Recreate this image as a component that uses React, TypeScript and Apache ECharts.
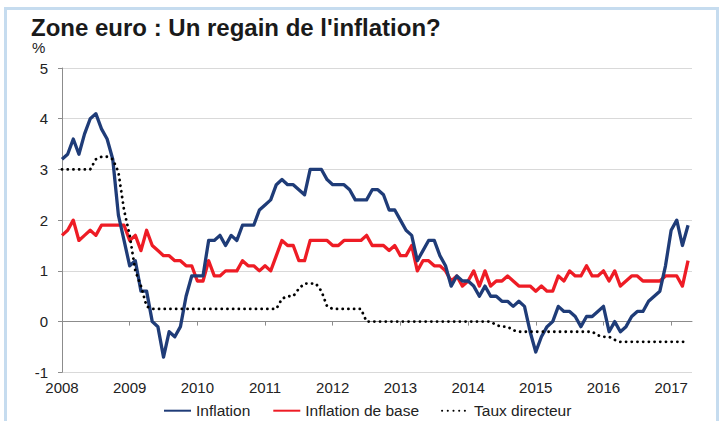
import React, { useEffect, useRef } from 'react';
import * as echarts from 'echarts';

const yearLabels = ['2008', '2009', '2010', '2011', '2012', '2013', '2014', '2015', '2016', '2017'];
const seriesNames = ['Inflation', 'Inflation de base', 'Taux directeur'];

// Monthly values, Jan 2008 - Apr 2017
const inflation = [
  3.2, 3.3, 3.6, 3.3, 3.7, 4.0, 4.1, 3.8, 3.6, 3.2, 2.1, 1.6,
  1.1, 1.2, 0.6, 0.6, 0.0, -0.1, -0.7, -0.2, -0.3, -0.1, 0.5, 0.9,
  0.9, 0.9, 1.6, 1.6, 1.7, 1.5, 1.7, 1.6, 1.9, 1.9, 1.9, 2.2,
  2.3, 2.4, 2.7, 2.8, 2.7, 2.7, 2.6, 2.5, 3.0, 3.0, 3.0, 2.8,
  2.7, 2.7, 2.7, 2.6, 2.4, 2.4, 2.4, 2.6, 2.6, 2.5, 2.2, 2.2,
  2.0, 1.8, 1.7, 1.2, 1.4, 1.6, 1.6, 1.3, 1.1, 0.7, 0.9, 0.8,
  0.8, 0.7, 0.5, 0.7, 0.5, 0.5, 0.4, 0.4, 0.3, 0.4, 0.3, -0.2,
  -0.6, -0.3, -0.1, 0.0, 0.3, 0.2, 0.2, 0.1, -0.1, 0.1, 0.1, 0.2,
  0.3, -0.2, 0.0, -0.2, -0.1, 0.1, 0.2, 0.2, 0.4, 0.5, 0.6, 1.1,
  1.8, 2.0, 1.5, 1.9,
];

const coreInflation = [
  1.7, 1.8, 2.0, 1.6, 1.7, 1.8, 1.7, 1.9, 1.9, 1.9, 1.9, 1.9,
  1.6, 1.7, 1.4, 1.8, 1.5, 1.4, 1.3, 1.3, 1.2, 1.2, 1.1, 1.1,
  0.8, 0.8, 1.2, 0.9, 0.9, 1.0, 1.0, 1.0, 1.2, 1.1, 1.1, 1.0,
  1.1, 1.0, 1.3, 1.6, 1.5, 1.5, 1.2, 1.2, 1.6, 1.6, 1.6, 1.6,
  1.5, 1.5, 1.6, 1.6, 1.6, 1.6, 1.7, 1.5, 1.5, 1.5, 1.4, 1.5,
  1.3, 1.3, 1.5, 1.0, 1.2, 1.2, 1.1, 1.1, 1.0, 0.8, 0.9, 0.7,
  0.8, 1.0, 0.7, 1.0, 0.7, 0.8, 0.8, 0.9, 0.8, 0.7, 0.7, 0.7,
  0.6, 0.7, 0.6, 0.6, 0.9, 0.8, 1.0, 0.9, 0.9, 1.1, 0.9, 0.9,
  1.0, 0.8, 1.0, 0.7, 0.8, 0.9, 0.9, 0.8, 0.8, 0.8, 0.8, 0.9,
  0.9, 0.9, 0.7, 1.2,
];

const policyRate = [
  3.0, 3.0, 3.0, 3.0, 3.0, 3.0, 3.2, 3.25, 3.25, 3.2, 2.95, 2.2,
  1.7, 1.0, 0.7, 0.3, 0.25, 0.25, 0.25, 0.25, 0.25, 0.25, 0.25, 0.25,
  0.25, 0.25, 0.25, 0.25, 0.25, 0.25, 0.25, 0.25, 0.25, 0.25, 0.25, 0.25,
  0.25, 0.25, 0.25, 0.45, 0.5, 0.5, 0.65, 0.75, 0.75, 0.75, 0.6, 0.3,
  0.25, 0.25, 0.25, 0.25, 0.25, 0.25, 0.0, 0.0, 0.0, 0.0, 0.0, 0.0,
  0.0, 0.0, 0.0, 0.0, 0.0, 0.0, 0.0, 0.0, 0.0, 0.0, 0.0, 0.0,
  0.0, 0.0, 0.0, 0.0, 0.0, -0.07, -0.1, -0.1, -0.17, -0.2, -0.2, -0.2,
  -0.2, -0.2, -0.2, -0.2, -0.2, -0.2, -0.2, -0.2, -0.2, -0.2, -0.2, -0.27,
  -0.3, -0.3, -0.36, -0.4, -0.4, -0.4, -0.4, -0.4, -0.4, -0.4, -0.4, -0.4,
  -0.4, -0.4, -0.4, -0.4,
];

const FONT = '"Liberation Sans", Arial, Helvetica, sans-serif';

export default function App() {
  const ref = useRef<HTMLDivElement>(null);

  useEffect(() => {
    if (!ref.current) return;
    const chart = echarts.init(ref.current, null, { renderer: 'svg' });
    const toPairs = (arr: number[]) => arr.map((v, i) => [i, v]);
    const yearTicks = yearLabels.map((_, k) => k * 12);

    chart.setOption({
      animation: false,
      backgroundColor: '#ffffff',
      textStyle: { fontFamily: FONT },
      title: {
        text: "Zone euro : Un regain de l'inflation?",
        left: 31,
        top: 15,
        padding: 0,
        textStyle: { fontFamily: FONT, fontSize: 24, fontWeight: 'bold', color: '#1a1a1a' },
      },
      legend: {
        left: 163,
        top: 402.7,
        padding: 0,
        itemWidth: 27,
        itemHeight: 16,
        itemGap: 22,
        itemStyle: { opacity: 0, borderWidth: 0 },
        textStyle: { fontFamily: FONT, fontSize: 15.5, color: '#222' },
        data: seriesNames,
      },
      grid: { left: 62, top: 68, width: 630, height: 304.3, containLabel: false },
      xAxis: [
        {
          type: 'value',
          min: 0,
          max: 111.7,
          interval: 12,
          position: 'bottom',
          axisLine: { show: false, onZero: false },
          axisTick: { show: false },
          splitLine: { show: false },
          axisLabel: {
            customValues: yearTicks,
            fontFamily: FONT,
            fontSize: 15,
            color: '#222',
            margin: 8,
            formatter: (v: number) => yearLabels[Math.round(v / 12)] ?? '',
          },
        },
        {
          type: 'value',
          min: 0,
          max: 111.7,
          interval: 12,
          position: 'bottom',
          axisLine: { show: true, onZero: true, lineStyle: { color: '#8c8c8c', width: 1 } },
          axisTick: { show: true, length: 4, customValues: yearTicks, lineStyle: { color: '#8c8c8c' } },
          axisLabel: { show: false },
          splitLine: { show: false },
        },
      ],
      yAxis: {
        type: 'value',
        min: -1,
        max: 5,
        interval: 1,
        axisLine: { show: true, onZero: false, lineStyle: { color: '#8c8c8c', width: 1 } },
        axisTick: { show: true, length: 4, lineStyle: { color: '#8c8c8c' } },
        axisLabel: { fontFamily: FONT, fontSize: 15, color: '#222', margin: 14 },
        splitLine: { show: true, lineStyle: { color: '#d9d9d9', width: 1 } },
      },
      graphic: [
        {
          type: 'text',
          left: 32,
          top: 40,
          style: { text: '%', font: `15px ${FONT}`, fill: '#222' },
        },
        {
          type: 'rect',
          shape: { x: 5.5, y: 8.5, width: 712, height: 440 },
          style: { fill: 'none', stroke: '#c6dcef', lineWidth: 3 },
          silent: true,
        },
      ],
      series: [
        {
          name: seriesNames[0],
          type: 'line',
          xAxisIndex: 0,
          data: toPairs(inflation),
          symbol: 'none',
          showSymbol: false,
          lineStyle: { color: '#1f3c78', width: 3.3, join: 'round' },
          itemStyle: { color: '#1f3c78' },
          z: 3,
        },
        {
          name: seriesNames[1],
          type: 'line',
          xAxisIndex: 0,
          data: toPairs(coreInflation),
          symbol: 'none',
          showSymbol: false,
          lineStyle: { color: '#ee1c25', width: 3.3, join: 'round' },
          itemStyle: { color: '#ee1c25' },
          z: 2,
        },
        {
          name: seriesNames[2],
          type: 'line',
          xAxisIndex: 0,
          data: toPairs(policyRate),
          symbol: 'none',
          showSymbol: false,
          lineStyle: { color: '#000000', width: 2.8, type: [0.1, 5.6], cap: 'round' },
          itemStyle: { color: '#000000' },
          z: 4,
        },
      ],
    });

    return () => chart.dispose();
  }, []);

  return (
    <div
      ref={ref}
      style={{ position: 'fixed', left: 0, top: 0, width: 721, height: 421, background: '#fff' }}
    />
  );
}
